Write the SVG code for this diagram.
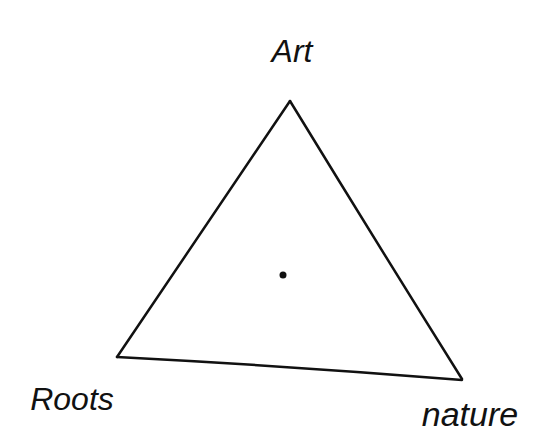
<svg xmlns="http://www.w3.org/2000/svg" width="544" height="436" viewBox="0 0 544 436">
<style>
.lbl{font-family:"Liberation Sans",Arial,sans-serif;font-size:32px;fill:#111;font-style:italic}
.edge{fill:none;stroke:#111;stroke-width:2.5;stroke-linecap:round;stroke-linejoin:round}
</style>
<rect width="544" height="436" fill="#fff"/>
<g id="connectors">
<path class="edge" d="M290 101 Q205 226 117 357"/>
<path class="edge" d="M290 101 Q375 240 462 379"/>
<path class="edge" d="M117 357 Q290 366 462 380"/>
</g>
<g id="art"><text class="lbl" x="292" y="62" text-anchor="middle">Art</text></g>
<g id="roots"><text class="lbl" x="72" y="410" text-anchor="middle">Roots</text></g>
<g id="nature"><text class="lbl" x="470" y="426" text-anchor="middle" style="font-size:34px">nature</text></g>
<g id="center"><circle cx="283" cy="275" r="3.5" fill="#111"/></g>
</svg>
